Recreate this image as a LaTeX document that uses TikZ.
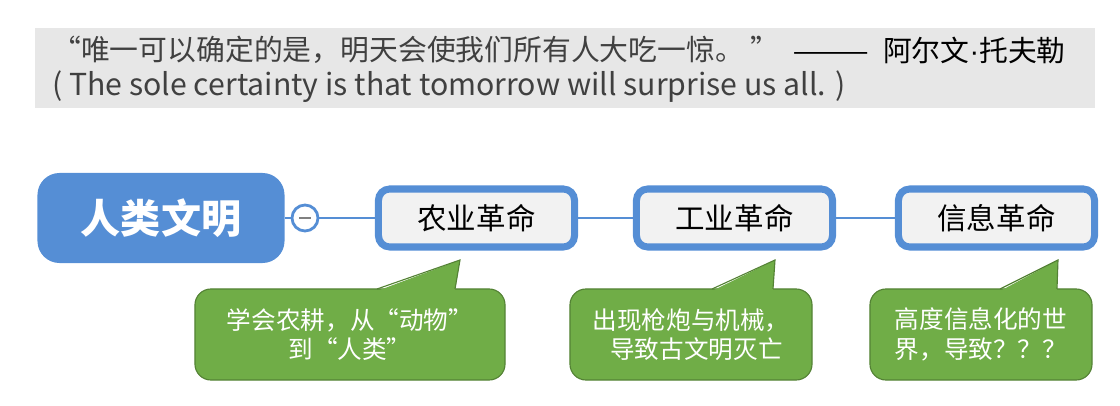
\documentclass[tikz,border=0pt]{standalone}
\usepackage{fontspec}
\setmainfont{Noto Sans CJK SC}
\newfontfamily\dotfont{Liberation Sans}
\usepackage{tikz}
\usetikzlibrary{calc,positioning}
\definecolor{civblue}{RGB}{85,142,213}
\definecolor{notegreen}{RGB}{112,173,71}
\definecolor{noteline}{RGB}{84,130,53}
\definecolor{quotebg}{RGB}{231,231,231}
\definecolor{boxfill}{RGB}{242,242,242}
\definecolor{quotetext}{RGB}{64,64,64}
\tikzset{
  quote/.style={text=quotetext,inner sep=0pt,font=\fontsize{20.5}{24}\selectfont},
  mainbox/.style={fill=civblue,text=white,rounded corners=0.55cm,minimum width=6.175cm,minimum height=2.25cm,font=\fontsize{28.5}{32}\selectfont\bfseries},
  revbox/.style={draw=civblue,line width=5pt,fill=boxfill,rounded corners=8pt,minimum width=4.9cm,minimum height=1.45cm,font=\fontsize{21}{25}\selectfont},
  notebox/.style={fill=notegreen,draw=noteline,line width=0.8pt,rounded corners=0.4cm,text=white,align=center,minimum height=2.275cm,font=\fontsize{17.5}{21}\selectfont},
  link/.style={civblue,line width=2pt}
}

\begin{document}
\begin{tikzpicture}[x=0.025cm,y=-0.025cm]
  \useasboundingbox (0,0) rectangle (1120,406);
  % quotation band
  \fill[quotebg] (35,28) rectangle (1095,108);
  \node[quote,anchor=west] (saying) at (52,50) {“唯一可以确定的是，明天会使我们所有人大吃一惊。 ”};
  \node[quote,anchor=east,text=black] (author) at (1066,50) {\scalebox{1.6}[1]{——}\ \ 阿尔文{\dotfont ·}托夫勒};
  \node[quote,anchor=west,font=\fontsize{21.5}{24}\selectfont] (english) at (52,87) {( The sole certainty is that tomorrow will surprise us all. )};
  % main branch
  \node[mainbox] (civ) at (161,218) {人类文明};
  \node[circle,draw=civblue,line width=2pt,fill=white,minimum size=0.65cm,inner sep=0pt] (fold) at (305,218) {};
  \draw[gray,line width=1.5pt] ($(fold.center)+(-6,0)$) -- ($(fold.center)+(6,0)$);
  \node[revbox] (agri) at (476.5,218) {农业革命};
  \node[revbox] (indu) at (734.5,218) {工业革命};
  \node[revbox] (info) at (996.5,218) {信息革命};
  \draw[link] (civ) -- (fold); \draw[link] (fold) -- (agri);
  \draw[link] (agri) -- (indu); \draw[link] (indu) -- (info);
  % notes
  \node[notebox,minimum width=7.75cm] (agrinote) at (350,334.5) {学会农耕，从“动物”\\到“人类”};
  \node[notebox,minimum width=6.05cm] (indunote) at (691,334.5) {出现枪炮与机械，\\\ \ 导致古文明灭亡};
  \node[notebox,minimum width=5.55cm] (infonote) at (981,334.5) {高度信息化的世\\界，导致？？？};
  \foreach \nt/\tip/\bl/\br in {agrinote/460/377/455,indunote/775/712/773,infonote/1058/1000/1057} {
    \coordinate (\nt-tip) at (\tip,260);
    \fill[notegreen] (\bl,291) -- (\nt-tip) -- (\br,291) -- cycle;
    \draw[noteline,line width=0.8pt] (\bl,289) -- (\nt-tip) -- (\br,289);
  }
\end{tikzpicture}
\end{document}
